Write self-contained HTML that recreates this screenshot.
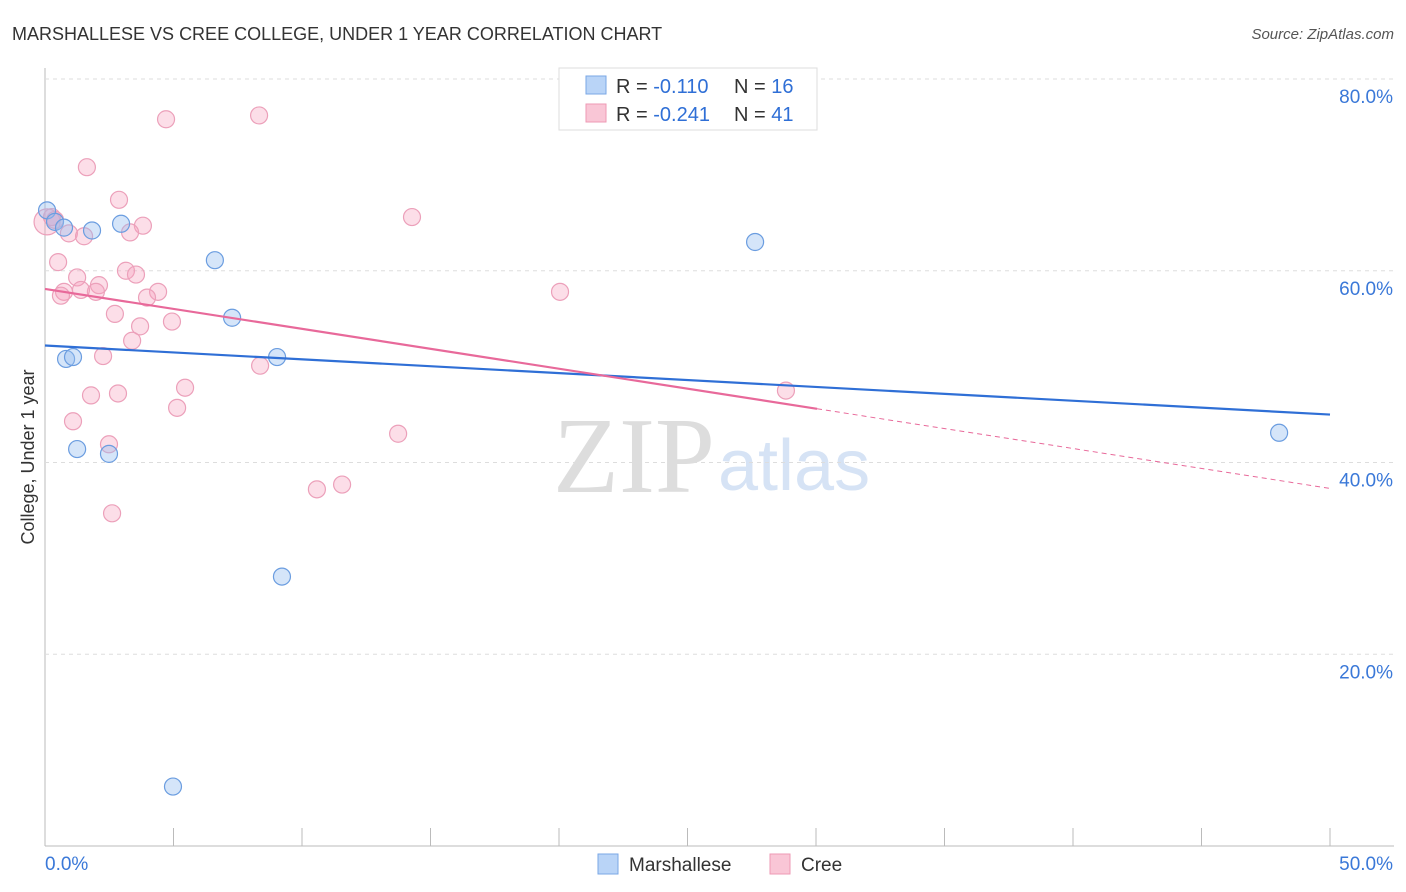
<!DOCTYPE html>
<html><head><meta charset="utf-8"><style>
body{margin:0;background:#fff;font-family:"Liberation Sans",sans-serif}
svg{display:block}
</style></head><body>
<svg width="1406" height="892" id="c">
<text x="12" y="40" font-size="18" fill="#333">MARSHALLESE VS CREE COLLEGE, UNDER 1 YEAR CORRELATION CHART</text>
<text x="1394" y="39" font-size="15" fill="#555" font-style="italic" text-anchor="end">Source: ZipAtlas.com</text>
<text x="715" y="492" font-size="108" fill="#ddd" text-anchor="end" font-family="Liberation Serif">ZIP</text>
<text x="718" y="490" font-size="72" fill="#d6e3f5">atlas</text>
<text transform="translate(34,457) rotate(-90)" font-size="18" fill="#333" text-anchor="middle">College, Under 1 year</text>
<g id="grid"></g><g id="marks"></g>
<g>
<rect x="559" y="68" width="258" height="62" fill="#fff" stroke="#ddd"/>
<rect x="586" y="76" width="20" height="18" fill="#b9d4f7" stroke="#7aa7e6"/>
<rect x="586" y="104" width="20" height="18" fill="#f9c6d6" stroke="#ee9ab4"/>
<text x="616" y="93" font-size="20" fill="#333">R = <tspan fill="#2f6fd6">-0.110</tspan></text>
<text x="734" y="93" font-size="20" fill="#333">N = <tspan fill="#2f6fd6">16</tspan></text>
<text x="616" y="121" font-size="20" fill="#333">R = <tspan fill="#2f6fd6">-0.241</tspan></text>
<text x="734" y="121" font-size="20" fill="#333">N = <tspan fill="#2f6fd6">41</tspan></text>
</g>
<g>
<rect x="598" y="854" width="20" height="20" fill="#b9d4f7" stroke="#7aa7e6"/>
<text x="629" y="871" font-size="19" fill="#333">Marshallese</text>
<rect x="770" y="854" width="20" height="20" fill="#f9c6d6" stroke="#ee9ab4"/>
<text x="801" y="871" font-size="19" fill="#333">Cree</text>
</g>
</svg>
<script>
const blueX=[0.08,0.39,0.74,1.83,2.96,6.61,7.28,0.82,1.09,9.03,1.25,2.49,9.22,4.98,27.63,48.02];
const blueY=[66.3,65.1,64.5,64.2,64.9,61.1,55.1,50.8,51.0,51.0,41.4,40.9,28.1,6.2,63.0,43.1];
const pinkX=[0.08,0.27,4.71,8.33,1.63,2.88,3.81,3.31,0.93,1.52,0.51,14.28,3.15,3.54,1.25,2.10,0.74,0.62,1.98,1.40,4.40,3.97,2.72,3.70,4.94,3.39,2.26,8.37,20.04,28.83,5.45,2.84,1.79,5.14,1.09,13.74,2.49,11.56,10.58,2.61,0.39];
const pinkY=[65.1,65.6,75.8,76.2,70.8,67.4,64.7,64.0,63.9,63.6,60.9,65.6,60.0,59.6,59.3,58.5,57.8,57.4,57.8,58.0,57.8,57.2,55.5,54.2,54.7,52.7,51.1,50.1,57.8,47.5,47.8,47.2,47.0,45.7,44.3,43.0,41.9,37.7,37.2,34.7,65.3];
const yTicks=[20,40,60,80];
const yTickLabels=["20.0%","40.0%","60.0%","80.0%"];
const blueTrend=[52.2,45.0];
const pinkTrend=[58.1,37.3];
const pinkSolidEnd=30.04;
const X=v=>45+v/50*1285, Y=v=>846-v*9.5875;
const NS="http://www.w3.org/2000/svg";
function mk(t,a,p){const e=document.createElementNS(NS,t);for(const k in a)e.setAttribute(k,a[k]);p.appendChild(e);return e;}
const g=document.getElementById('grid'),m=document.getElementById('marks');
mk('line',{x1:45,y1:68,x2:45,y2:846,stroke:'#bbb'},g);
mk('line',{x1:45,y1:846,x2:1394,y2:846,stroke:'#bbb'},g);
for(let i=0;i<=10;i++){const l=mk('line',{x1:X(i*5),y1:828,x2:X(i*5),y2:846,stroke:'#bbb'},g);}
yTicks.forEach((t,i)=>{
 const l=mk('line',{x1:45,y1:Y(t),x2:1394,y2:Y(t),stroke:'#ddd','stroke-dasharray':'4,4'},g);
 
 
 const tx=mk('text',{x:1393,y:Y(t)+24,'font-size':19,fill:'#3a78d8','text-anchor':'end'},g);tx.textContent=yTickLabels[i];
 
 
});
const x0=mk('text',{x:45,y:870,'font-size':19,fill:'#3a78d8'},g);x0.textContent='0.0%';


const x1=mk('text',{x:1393,y:870,'font-size':19,fill:'#3a78d8','text-anchor':'end'},g);x1.textContent='50.0%';


pinkX.forEach((x,i)=>{const c=mk('circle',{cx:X(x),cy:Y(pinkY[i]),r:i==0?13:8.5,fill:'rgba(245,160,190,0.35)',stroke:'#eca0ba','stroke-width':1.2},m);
 
 });
blueX.forEach((x,i)=>{const c=mk('circle',{cx:X(x),cy:Y(blueY[i]),r:8.5,fill:'rgba(150,190,240,0.4)',stroke:'#6b9de0','stroke-width':1.2},m);
 
 });
const pAt=v=>pinkTrend[0]+(pinkTrend[1]-pinkTrend[0])*v/50;
const bl=mk('line',{x1:X(0),y1:Y(blueTrend[0]),x2:X(50),y2:Y(blueTrend[1]),stroke:'#2f6fd6','stroke-width':2.2},m);


const pl=mk('line',{x1:X(0),y1:Y(pinkTrend[0]),x2:X(pinkSolidEnd),y2:Y(pAt(pinkSolidEnd)),stroke:'#e8699a','stroke-width':2.2},m);


const pd=mk('line',{x1:X(pinkSolidEnd),y1:Y(pAt(pinkSolidEnd)),x2:X(50),y2:Y(pinkTrend[1]),stroke:'#e8699a','stroke-width':1,'stroke-dasharray':'5,4'},m);


</script>
</body></html>
